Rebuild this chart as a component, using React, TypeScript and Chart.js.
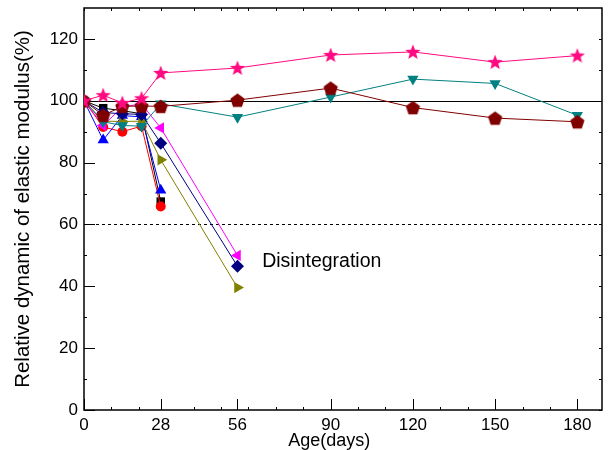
import React, { useEffect, useRef } from 'react';
import { Chart, registerables } from 'chart.js';

Chart.register(...registerables);

// ---- data ----
const days = [0, 7, 14, 21, 28, 56, 90, 120, 150, 180];
const xTickValues = [0, 28, 56, 90, 120, 150, 180];
const xMinorTicks = [10, 20, 40, 50, 60, 70, 80, 100, 110, 130, 140, 160, 170];
const yTickValues = [0, 20, 40, 60, 80, 100, 120];
const yMinorTicks = [10, 30, 50, 70, 90, 110];

const pinkStar = [100, 101.8, 99.3, 100.8, 109, 110.6, 114.8, 115.8, 112.5, 114.6];
const darkRedPentagon = [100, 95.3, 98.2, 98.3, 98.2, 100.2, 104.1, 97.8, 94.4, 93.2];
const tealDown = [100, 93.2, 92, 91.8, 99, 94.7, 101.2, 107, 105.6, 95.3];
const navyDiamond = [100, 96.2, 95.8, 95.6, 86.3, 46.5];
const magentaLeft = [100, 92, 98, 99, 91.2, 50];
const oliveRight = [100, 93.4, 93.3, 93.4, 80.9, 39.6];
const blueUp = [100, 87.3, 95.2, 94.8, 71.1];
const redCircle = [100, 91.5, 90, 91.8, 65.8];
const blackSquare = [100, 97.6, 96.8, 95.8, 67.4];

const refSolid = 100;
const refDashed = 60;
const annotationText = 'Disintegration';
const annotationAt = { x: 65, y: 48 };
const xTitle = 'Age(days)';
const xTitleCenter = 89.5;
const yTitle = 'Relative dynamic of elastic modulus(%)';

const toPoints = (vals: number[]) => vals.map((v, i) => ({ x: days[i], y: v }));

function makeStar(color: string, outer: number, inner: number) {
  const size = Math.ceil(outer * 2 + 2);
  const c = document.createElement('canvas');
  c.width = size;
  c.height = size;
  const g = c.getContext('2d')!;
  const cx = size / 2;
  const cy = size / 2 + 0.5;
  g.beginPath();
  for (let i = 0; i < 10; i++) {
    const r = i % 2 === 0 ? outer : inner;
    const a = -Math.PI / 2 + (i * Math.PI) / 5;
    const px = cx + r * Math.cos(a);
    const py = cy + r * Math.sin(a);
    if (i === 0) g.moveTo(px, py);
    else g.lineTo(px, py);
  }
  g.closePath();
  g.fillStyle = color;
  g.fill();
  return c;
}

function makePentagon(color: string, r: number) {
  const size = Math.ceil(r * 2 + 2);
  const c = document.createElement('canvas');
  c.width = size;
  c.height = size;
  const g = c.getContext('2d')!;
  const cx = size / 2;
  const cy = size / 2 + 0.8;
  g.beginPath();
  for (let i = 0; i < 5; i++) {
    const a = -Math.PI / 2 + (i * 2 * Math.PI) / 5;
    const px = cx + r * Math.cos(a);
    const py = cy + r * Math.sin(a);
    if (i === 0) g.moveTo(px, py);
    else g.lineTo(px, py);
  }
  g.closePath();
  g.fillStyle = color;
  g.fill();
  return c;
}

const FONT = "'Liberation Sans', Arial, sans-serif";

const framePlugin = {
  id: 'framePlugin',
  beforeDatasetsDraw(chart: any) {
    const { ctx, chartArea: a, scales } = chart;
    const x = scales.x;
    const y = scales.y;
    ctx.save();
    ctx.strokeStyle = '#000';
    ctx.lineWidth = 1;
    const ys = Math.round(y.getPixelForValue(refSolid)) + 0.5;
    ctx.beginPath();
    ctx.moveTo(a.left, ys);
    ctx.lineTo(a.right, ys);
    ctx.stroke();
    const yd = Math.round(y.getPixelForValue(refDashed)) + 0.5;
    ctx.setLineDash([3, 3]);
    ctx.beginPath();
    ctx.moveTo(a.left, yd);
    ctx.lineTo(a.right, yd);
    ctx.stroke();
    ctx.setLineDash([]);
    ctx.lineWidth = 1.5;
    ctx.strokeRect(a.left, a.top, a.right - a.left, a.bottom - a.top);
    ctx.lineWidth = 1;
    const major = 11;
    const minor = 3;
    ctx.beginPath();
    xTickValues.forEach((v) => {
      const px = Math.round(x.getPixelForValue(v)) + 0.5;
      ctx.moveTo(px, a.bottom);
      ctx.lineTo(px, a.bottom - major);
      ctx.moveTo(px, a.top);
      ctx.lineTo(px, a.top + minor);
    });
    xMinorTicks.forEach((v) => {
      const px = Math.round(x.getPixelForValue(v)) + 0.5;
      ctx.moveTo(px, a.bottom);
      ctx.lineTo(px, a.bottom - minor);
      ctx.moveTo(px, a.top);
      ctx.lineTo(px, a.top + minor);
    });
    yTickValues.forEach((v) => {
      const py = Math.round(y.getPixelForValue(v)) + 0.5;
      ctx.moveTo(a.left, py);
      ctx.lineTo(a.left + major, py);
      ctx.moveTo(a.right, py);
      ctx.lineTo(a.right - minor, py);
    });
    yMinorTicks.forEach((v) => {
      const py = Math.round(y.getPixelForValue(v)) + 0.5;
      ctx.moveTo(a.left, py);
      ctx.lineTo(a.left + minor, py);
      ctx.moveTo(a.right, py);
      ctx.lineTo(a.right - minor, py);
    });
    ctx.stroke();
    ctx.restore();
  },
  afterDraw(chart: any) {
    const { ctx, scales } = chart;
    const x = scales.x;
    const y = scales.y;
    ctx.save();
    ctx.fillStyle = '#000';
    ctx.font = `19.5px ${FONT}`;
    ctx.textAlign = 'left';
    ctx.textBaseline = 'middle';
    ctx.fillText(annotationText, x.getPixelForValue(annotationAt.x), y.getPixelForValue(annotationAt.y));
    ctx.font = `18px ${FONT}`;
    ctx.textAlign = 'center';
    ctx.textBaseline = 'alphabetic';
    ctx.fillText(xTitle, x.getPixelForValue(xTitleCenter), 446);
    ctx.restore();
  },
};

export default function App() {
  const ref = useRef<HTMLCanvasElement | null>(null);

  useEffect(() => {
    document.body.style.margin = '0';
    const canvas = ref.current!;
    const star = makeStar('#ff0a80', 8, 3.4);
    const pent = makePentagon('#800000', 7.5);

    const mk = (label: string, vals: number[], color: string, style: any, radius: number, rotation = 0) => ({
      label,
      data: toPoints(vals),
      borderColor: color,
      backgroundColor: color,
      borderWidth: 1,
      pointStyle: style,
      pointRadius: radius,
      pointRotation: rotation,
      pointBorderWidth: 0,
      pointBackgroundColor: color,
      pointBorderColor: color,
      fill: false,
      tension: 0,
    });

    const chart = new Chart(canvas, {
      type: 'line',
      data: {
        datasets: [
          mk('star', pinkStar, '#ff0a80', star, 8),
          mk('pentagon', darkRedPentagon, '#800000', pent, 8),
          mk('teal', tealDown, '#008080', 'triangle', 6.5, 180),
          mk('navy', navyDiamond, '#000080', 'rectRot', 6.5),
          mk('magenta', magentaLeft, '#ff00ff', 'triangle', 6.5, -90),
          mk('olive', oliveRight, '#808000', 'triangle', 6.5, 90),
          mk('blue', blueUp, '#0000ff', 'triangle', 6.5),
          mk('red', redCircle, '#ff0000', 'circle', 5),
          mk('black', blackSquare, '#000000', 'rect', 6),
        ] as any,
      },
      options: {
        animation: false,
        responsive: false,
        layout: { padding: { top: 8, right: 4, left: 0, bottom: 0 } },
        plugins: { legend: { display: false }, tooltip: { enabled: false } },
        scales: {
          x: {
            type: 'linear',
            min: 0,
            max: 189,
            grid: { display: false, drawTicks: false },
            border: { display: false },
            afterBuildTicks: (s: any) => {
              s.ticks = xTickValues.map((v) => ({ value: v }));
            },
            afterFit: (s: any) => {
              s.height = 40;
              s.paddingLeft = 0;
              s.paddingRight = 0;
            },
            ticks: {
              padding: 5,
              color: '#000',
              maxRotation: 0,
              autoSkip: false,
              font: { family: FONT, size: 17 },
            },
          },
          y: {
            type: 'linear',
            min: 0,
            max: 130,
            grid: { display: false, drawTicks: false },
            border: { display: false },
            afterBuildTicks: (s: any) => {
              s.ticks = yTickValues.map((v) => ({ value: v }));
            },
            afterFit: (s: any) => {
              s.width = 84;
              s.paddingTop = 0;
              s.paddingBottom = 0;
            },
            ticks: {
              padding: 6,
              color: '#000',
              font: { family: FONT, size: 17 },
            },
            title: {
              display: true,
              text: yTitle,
              color: '#000',
              font: { family: FONT, size: 20.5 },
              padding: { top: 11, bottom: 0 },
            },
          },
        },
      },
      plugins: [framePlugin],
    } as any);

    return () => chart.destroy();
  }, []);

  return (
    <div style={{ width: 610, height: 450 }}>
      <canvas ref={ref} width={610} height={450} />
    </div>
  );
}
